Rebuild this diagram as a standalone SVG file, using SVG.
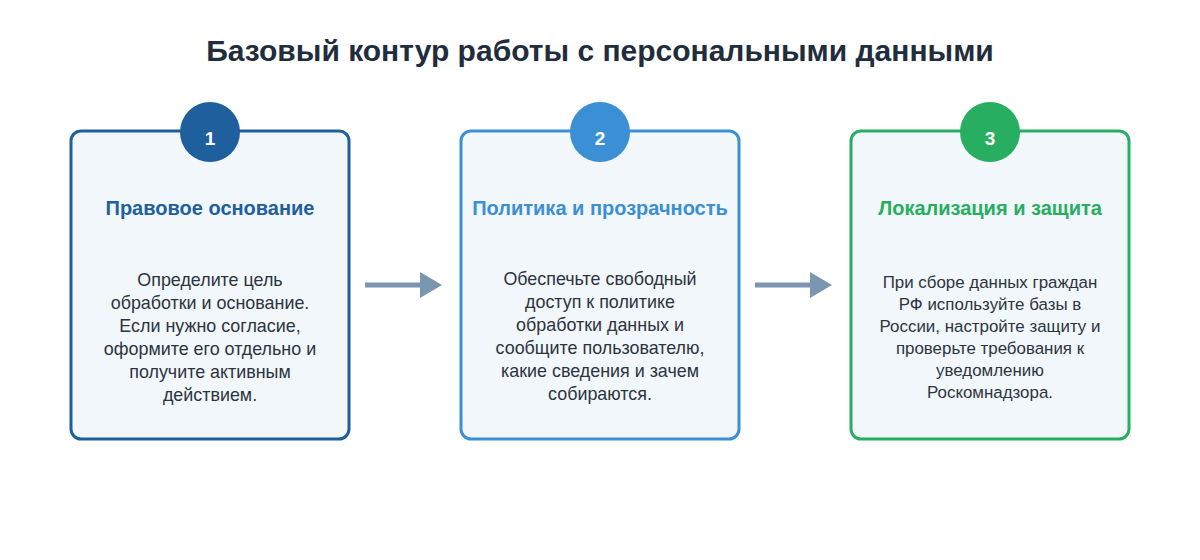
<svg xmlns="http://www.w3.org/2000/svg" width="1200" height="560" viewBox="0 0 1200 560">
<style>
.title{font-family:"Liberation Sans",Arial,sans-serif;font-size:30px;font-weight:bold;fill:#1f2d3d;text-anchor:middle}
.box{fill:#f2f7fb;stroke-width:3}
.num{font-family:"Liberation Sans",Arial,sans-serif;font-size:19px;font-weight:bold;fill:#fff;text-anchor:middle}
.head{font-family:"Liberation Sans",Arial,sans-serif;font-size:20px;font-weight:bold;text-anchor:middle}
.body{font-family:"Liberation Sans",Arial,sans-serif;font-size:17.9px;fill:#2c3440;text-anchor:middle}
.body3{font-family:"Liberation Sans",Arial,sans-serif;font-size:16.9px;fill:#2c3440;text-anchor:middle}
.conn{stroke:#7a96b0;stroke-width:5;fill:none}
</style>
<defs>
<marker id="ah" markerUnits="userSpaceOnUse" markerWidth="22" markerHeight="26" refX="0" refY="13" orient="auto">
<polygon points="0,0 22,13 0,26" fill="#7a96b0"/>
</marker>
</defs>
<rect width="1200" height="560" fill="#ffffff"/>
<text class="title" x="600" y="61">Базовый контур работы с персональными данными</text>
<g id="connectors">
<line class="conn" x1="365" y1="285" x2="420" y2="285" marker-end="url(#ah)"/>
<line class="conn" x1="755" y1="285" x2="810" y2="285" marker-end="url(#ah)"/>
</g>
<g id="node1">
<rect class="box" x="71" y="131" width="278" height="308" rx="10" stroke="#1f5f9e"/>
<circle cx="210" cy="132" r="30" fill="#1f5f9e"/>
<text class="num" x="210" y="145">1</text>
<text class="head" x="210" y="215" fill="#1f5f9e">Правовое основание</text>
<text class="body" x="210" y="286">Определите цель</text>
<text class="body" x="210" y="309">обработки и основание.</text>
<text class="body" x="210" y="332">Если нужно согласие,</text>
<text class="body" x="210" y="355">оформите его отдельно и</text>
<text class="body" x="210" y="378">получите активным</text>
<text class="body" x="210" y="401">действием.</text>
</g>
<g id="node2">
<rect class="box" x="461" y="131" width="278" height="308" rx="10" stroke="#3b8fd4"/>
<circle cx="600" cy="132" r="30" fill="#3b8fd4"/>
<text class="num" x="600" y="145">2</text>
<text class="head" x="600" y="215" fill="#3b8fd4">Политика и прозрачность</text>
<text class="body" x="600" y="285">Обеспечьте свободный</text>
<text class="body" x="600" y="308">доступ к политике</text>
<text class="body" x="600" y="331">обработки данных и</text>
<text class="body" x="600" y="354">сообщите пользователю,</text>
<text class="body" x="600" y="377">какие сведения и зачем</text>
<text class="body" x="600" y="400">собираются.</text>
</g>
<g id="node3">
<rect class="box" x="851" y="131" width="278" height="308" rx="10" stroke="#27ae60"/>
<circle cx="990" cy="132" r="30" fill="#27ae60"/>
<text class="num" x="990" y="145">3</text>
<text class="head" x="990" y="215" fill="#27ae60">Локализация и защита</text>
<text class="body3" x="990" y="288">При сборе данных граждан</text>
<text class="body3" x="990" y="310">РФ используйте базы в</text>
<text class="body3" x="990" y="332">России, настройте защиту и</text>
<text class="body3" x="990" y="354">проверьте требования к</text>
<text class="body3" x="990" y="376">уведомлению</text>
<text class="body3" x="990" y="398">Роскомнадзора.</text>
</g>
</svg>
